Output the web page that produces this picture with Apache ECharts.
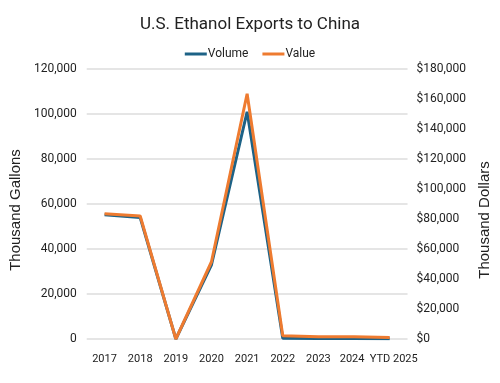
<!DOCTYPE html>
<html><head><meta charset="utf-8">
<script src="https://cdn.jsdelivr.net/npm/echarts@6/dist/echarts.min.js"></script>
<style>html,body{margin:0;padding:0;background:#fff}#c{width:500px;height:383px}</style>
</head><body><div id="c"></div>
<script>
const categories = ['2017','2018','2019','2020','2021','2022','2023','2024','YTD 2025'];
const volume = [55200, 54000, 0, 33000, 101000, 300, 200, 200, 150];
const value = [83500, 82000, 0, 51500, 163500, 2200, 1500, 1500, 1000];
const leftTicks = {min: 0, max: 120000, interval: 20000};
const rightTicks = {min: 0, max: 180000, interval: 20000};
const narrow = "'Roboto', sans-serif";
const wide = "'Liberation Sans', Arial, sans-serif";
const chart = echarts.init(document.getElementById('c'));
chart.setOption({
  animation: false,
  backgroundColor: '#fff',
  title: {text: 'U.S. Ethanol Exports to China', left: 'center', top: 11,
    textStyle: {fontFamily: narrow, fontSize: 17, fontWeight: 'normal', color: '#222'}},
  legend: {top: 43, left: 'center', itemWidth: 22, itemHeight: 3, itemGap: 14,
    icon: 'rect',
    textStyle: {fontFamily: narrow, fontSize: 12, color: '#222', padding: [0,0,0,-4]},
    data: ['Volume','Value']},
  grid: {left: 73, right: 88, top: 69, bottom: 44},
  xAxis: {type: 'category', data: categories, boundaryGap: true,
    axisLine: {show: false}, axisTick: {show: false},
    axisLabel: {fontFamily: narrow, fontSize: 11, color: '#222', margin: 15, interval: 0,
      formatter: (v, i) => i === categories.length - 1 ? '{r|' + v + '}' : (i === categories.length - 2 ? '{l|' + v + '}' : v),
      rich: {
        r: {fontFamily: narrow, fontSize: 11, color: '#222', padding: [0, 0, 0, 8]},
        l: {fontFamily: narrow, fontSize: 11, color: '#222', padding: [0, 4, 0, 0]}
      }}},
  yAxis: [
    {type: 'value', min: leftTicks.min, max: leftTicks.max, interval: leftTicks.interval,
     name: 'Thousand Gallons', nameLocation: 'middle', nameGap: 55,
     nameTextStyle: {fontFamily: wide, fontSize: 15, color: '#222', padding: [0, 12, 0, 0]},
     axisLabel: {fontFamily: narrow, fontSize: 12, color: '#222', margin: 10,
       formatter: v => v.toLocaleString('en-US')},
     splitLine: {lineStyle: {color: '#dcdcdc', width: 1.5}}},
    {type: 'value', min: rightTicks.min, max: rightTicks.max, interval: rightTicks.interval,
     name: 'Thousand Dollars', nameLocation: 'middle', nameGap: 63,
     nameTextStyle: {fontFamily: wide, fontSize: 15, color: '#222', padding: [0, 32, 0, 0]},
     axisLabel: {fontFamily: narrow, fontSize: 12, color: '#222', margin: 9,
       formatter: v => '$' + v.toLocaleString('en-US')},
     splitLine: {show: false}}
  ],
  series: [
    {name: 'Volume', type: 'line', yAxisIndex: 0, data: volume, symbol: 'none',
     lineStyle: {color: '#1d6286', width: 3}, itemStyle: {color: '#1d6286'}},
    {name: 'Value', type: 'line', yAxisIndex: 1, data: value, symbol: 'none',
     lineStyle: {color: '#ee7b30', width: 3}, itemStyle: {color: '#ee7b30'}}
  ]
});
</script></body></html>
